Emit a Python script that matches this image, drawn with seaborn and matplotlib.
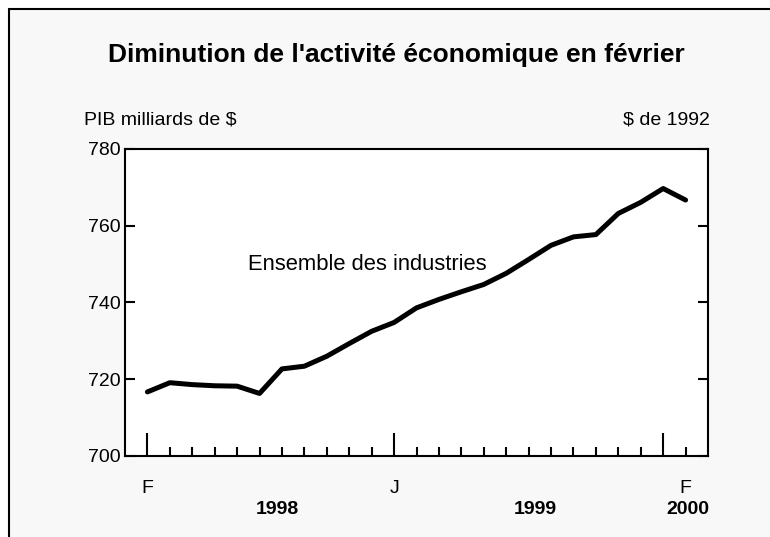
import numpy as np
import pandas as pd
import matplotlib
matplotlib.use("Agg")
import matplotlib.pyplot as plt
import matplotlib.patches as patches
import matplotlib.lines as mlines
import matplotlib.transforms as mtransforms
import seaborn as sns

# données : PIB mensuel, février 1998 à février 2000 (milliards de $ de 1992)
mois = ["F", "M", "A", "M", "J", "J", "A", "S", "O", "N", "D",
        "J", "F", "M", "A", "M", "J", "J", "A", "S", "O", "N", "D",
        "J", "F"]
pib = [716.7, 719.1, 718.6, 718.3, 718.2, 716.3, 722.7, 723.4, 726.0,
       729.3, 732.5, 734.8, 738.6, 740.8, 742.8, 744.7, 747.6, 751.2,
       754.9, 757.1, 757.7, 763.2, 766.1, 769.7, 766.7]
etiquettes_mois = {0: "F", 11: "J", 24: "F"}
grands_traits = [0, 11, 23]
annees = ["1998", "1999", "2000"]
pos_annees = [5.8, 17.3, 24.1]
yticks = [700, 720, 740, 760, 780]

df = pd.DataFrame({"t": np.arange(len(pib)), "pib": pib})

sns.set_theme(style="white")
plt.rcParams["font.family"] = ["Liberation Sans", "DejaVu Sans"]
plt.rcParams["text.color"] = "black"

fig = plt.figure(figsize=(7.7, 5.37), dpi=100, facecolor="white")

# cadre gris clair avec bordure en haut et à gauche
fond = patches.Rectangle((9 / 770, 0), 1, 1 - 9 / 537, transform=fig.transFigure,
                         facecolor="#f8f8f8", edgecolor="none", zorder=-10)
fig.add_artist(fond)
fig.add_artist(mlines.Line2D([9 / 770, 1], [1 - 9 / 537, 1 - 9 / 537],
                             transform=fig.transFigure, color="black", linewidth=1.5))
fig.add_artist(mlines.Line2D([9 / 770, 9 / 770], [0, 1 - 9 / 537],
                             transform=fig.transFigure, color="black", linewidth=1.5))

ax = fig.add_axes([125 / 770, 1 - 456 / 537, (708 - 125) / 770, (456 - 149) / 537])
ax.set_facecolor("white")

sns.lineplot(data=df, x="t", y="pib", ax=ax, color="black", linewidth=3.6)

ax.set_xlim(-1, 25)
ax.set_ylim(700, 780)
ax.set_xlabel("")
ax.set_ylabel("")

for s in ax.spines.values():
    s.set_color("black")
    s.set_linewidth(1.5)

ax.set_xticks(df["t"])
ax.set_xticklabels([etiquettes_mois.get(i, "") for i in df["t"]], fontsize=14)
ax.tick_params(axis="x", direction="in", length=6.5, width=1.5, pad=17,
               bottom=True, colors="black", labelcolor="black")
for i in grands_traits:
    ax.xaxis.get_major_ticks()[i].tick1line.set_markersize(16.5)

ax.set_yticks(yticks)
ax.tick_params(axis="y", direction="in", length=7, width=1.5, pad=3,
               left=True, right=True, labelsize=14, colors="black", labelcolor="black")

ax.text(4.5, 750, "Ensemble des industries", fontsize=15.8, va="center", ha="left",
        color="black")

fig.text(0.515, 1 - 55 / 537, "Diminution de l'activité économique en février",
         fontsize=19, fontweight="bold", ha="center", va="center", color="black")
fig.text(84 / 770, 1 - 120 / 537, "PIB milliards de $", fontsize=14,
         ha="left", va="center", color="black")
fig.text(710 / 770, 1 - 120 / 537, "$ de 1992", fontsize=14,
         ha="right", va="center", color="black")

trans = mtransforms.blended_transform_factory(ax.transData, fig.transFigure)
for lab, x in zip(annees, pos_annees):
    fig.text(x, 1 - 510 / 537, lab, transform=trans, fontsize=14,
             fontweight="bold", ha="center", va="center", color="black")

fig.savefig("out.png", dpi=100, facecolor=fig.get_facecolor())
